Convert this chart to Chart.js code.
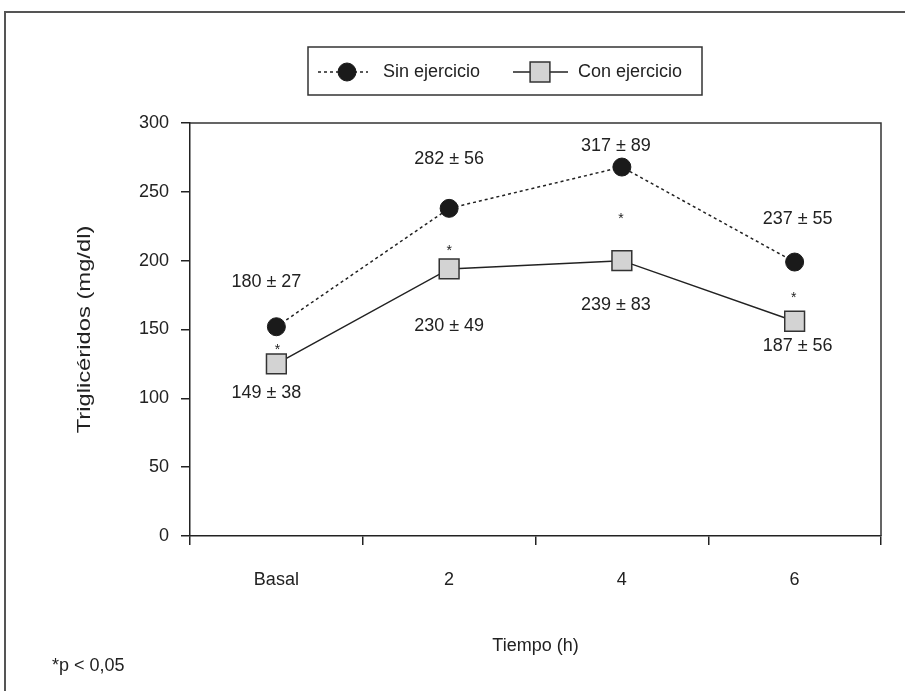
<!DOCTYPE html>
<html>
<head>
<meta charset="utf-8">
<script src="https://cdn.jsdelivr.net/npm/chart.js@4"></script>
<style>
    body { margin: 0; background: #fff; }
    canvas { display: block; }
</style>
</head>
<body>
<canvas id="trigChart" width="905" height="691"></canvas>
<script>
// Data
const timeLabels = ['Basal', '2', '4', '6'];
const sinEjercicio = [152, 238, 268, 199];
const conEjercicio = [125, 194, 200, 156];
const sinText = ['180 ± 27', '282 ± 56', '317 ± 89', '237 ± 55'];
const conText = ['149 ± 38', '230 ± 49', '239 ± 83', '187 ± 56'];
const significant = [true, true, true, true];

const FONT = '"Liberation Sans", Arial, sans-serif';
const INK = '#222';
Chart.defaults.font.family = FONT;

// label offsets from their marker (pixels)
const sinOff = [[-10, -45], [0, -49], [-6, -21], [3, -43]];
const conOff = [[-10, 29], [0, 57], [-6, 44], [3, 25]];
const starOff = [[1, -18], [0, -22], [-1, -46], [-1, -27]];

const decor = {
    id: 'decor',
    beforeDraw(chart) {
        const ctx = chart.ctx;
        ctx.save();
        ctx.strokeStyle = '#555';
        ctx.lineWidth = 2;
        ctx.beginPath();
        ctx.moveTo(5, 691);
        ctx.lineTo(5, 12);
        ctx.lineTo(905, 12);
        ctx.stroke();
        ctx.restore();
    },
    afterDraw(chart) {
        const { ctx, chartArea: a } = chart;
        ctx.save();

        // top and right frame of the plot
        ctx.strokeStyle = '#333';
        ctx.lineWidth = 1.5;
        ctx.beginPath();
        ctx.moveTo(a.left, a.top);
        ctx.lineTo(a.right, a.top);
        ctx.lineTo(a.right, a.bottom);
        ctx.stroke();

        // mean ± SD labels and significance marks
        ctx.fillStyle = INK;
        ctx.textAlign = 'center';
        ctx.textBaseline = 'middle';
        ctx.font = '18px ' + FONT;
        const sinPts = chart.getDatasetMeta(0).data;
        const conPts = chart.getDatasetMeta(1).data;
        sinPts.forEach((p, i) => {
            ctx.fillText(sinText[i], p.x + sinOff[i][0], p.y + sinOff[i][1]);
        });
        conPts.forEach((p, i) => {
            ctx.fillText(conText[i], p.x + conOff[i][0], p.y + conOff[i][1]);
        });
        ctx.font = '14px ' + FONT;
        ctx.textBaseline = 'alphabetic';
        conPts.forEach((p, i) => {
            if (significant[i]) ctx.fillText('*', p.x + starOff[i][0], p.y + starOff[i][1] + 8);
        });

        // legend box
        ctx.strokeStyle = '#333';
        ctx.lineWidth = 1.5;
        ctx.strokeRect(308, 47, 394, 48);
        const ly = 72;
        const items = [
            { ds: chart.data.datasets[0], x0: 318, x1: 368, mx: 347, tx: 383 },
            { ds: chart.data.datasets[1], x0: 513, x1: 568, mx: 540, tx: 578 }
        ];
        items.forEach(it => {
            const ds = it.ds;
            ctx.save();
            ctx.strokeStyle = ds.borderColor;
            ctx.lineWidth = ds.borderWidth;
            ctx.setLineDash(ds.borderDash || []);
            ctx.beginPath();
            ctx.moveTo(it.x0, ly);
            ctx.lineTo(it.x1, ly);
            ctx.stroke();
            ctx.setLineDash([]);
            ctx.fillStyle = ds.pointBackgroundColor;
            ctx.strokeStyle = ds.pointBorderColor;
            ctx.lineWidth = ds.pointBorderWidth;
            Chart.helpers.drawPoint(ctx, {
                pointStyle: ds.pointStyle,
                radius: ds.pointRadius,
                rotation: 0,
                borderWidth: ds.pointBorderWidth
            }, it.mx, ly);
            ctx.restore();
            ctx.fillStyle = INK;
            ctx.font = '18px ' + FONT;
            ctx.textAlign = 'left';
            ctx.textBaseline = 'middle';
            ctx.fillText(ds.label, it.tx, ly);
        });

        // axis titles and footnote
        ctx.fillStyle = INK;
        ctx.textAlign = 'center';
        ctx.textBaseline = 'middle';
        ctx.font = '18px ' + FONT;
        ctx.fillText('Tiempo (h)', (a.left + a.right) / 2, 646);

        ctx.save();
        ctx.translate(85, (a.top + a.bottom) / 2);
        ctx.rotate(-Math.PI / 2);
        ctx.scale(1.32, 1);
        ctx.fillText('Triglicéridos (mg/dl)', 0, 0);
        ctx.restore();

        ctx.textAlign = 'left';
        ctx.fillText('*p < 0,05', 52, 666);

        ctx.restore();
    }
};

const ctx = document.getElementById('trigChart').getContext('2d');
new Chart(ctx, {
    type: 'line',
    data: {
        labels: timeLabels,
        datasets: [
            {
                label: 'Sin ejercicio',
                data: sinEjercicio,
                borderColor: '#222',
                borderWidth: 1.5,
                borderDash: [3, 3],
                pointStyle: 'circle',
                pointRadius: 9,
                pointBackgroundColor: '#1a1a1a',
                pointBorderColor: '#1a1a1a',
                pointBorderWidth: 1,
                fill: false,
                tension: 0
            },
            {
                label: 'Con ejercicio',
                data: conEjercicio,
                borderColor: '#222',
                borderWidth: 1.5,
                pointStyle: 'rect',
                pointRadius: 14,
                pointBackgroundColor: '#d3d3d3',
                pointBorderColor: '#333',
                pointBorderWidth: 1.5,
                fill: false,
                tension: 0
            }
        ]
    },
    options: {
        responsive: false,
        animation: false,
        layout: { padding: { top: 123, right: 24, left: 0, bottom: 0 } },
        plugins: {
            legend: { display: false },
            tooltip: { enabled: false }
        },
        scales: {
            x: {
                offset: true,
                grid: {
                    offset: true,
                    drawOnChartArea: false,
                    drawTicks: true,
                    tickLength: 9,
                    color: '#222',
                    lineWidth: 1.5
                },
                border: { display: true, color: '#222', width: 1.5 },
                ticks: { color: INK, font: { size: 18 }, padding: 24 },
                afterFit: s => { s.height = 155; }
            },
            y: {
                min: 0,
                max: 300,
                grid: {
                    drawOnChartArea: false,
                    drawTicks: true,
                    tickLength: 9,
                    color: '#222',
                    lineWidth: 1.5
                },
                border: { display: true, color: '#222', width: 1.5 },
                ticks: { stepSize: 50, color: INK, font: { size: 18 }, padding: 12 },
                afterFit: s => { s.width = 190; }
            }
        }
    },
    plugins: [decor]
});
</script>
</body>
</html>
